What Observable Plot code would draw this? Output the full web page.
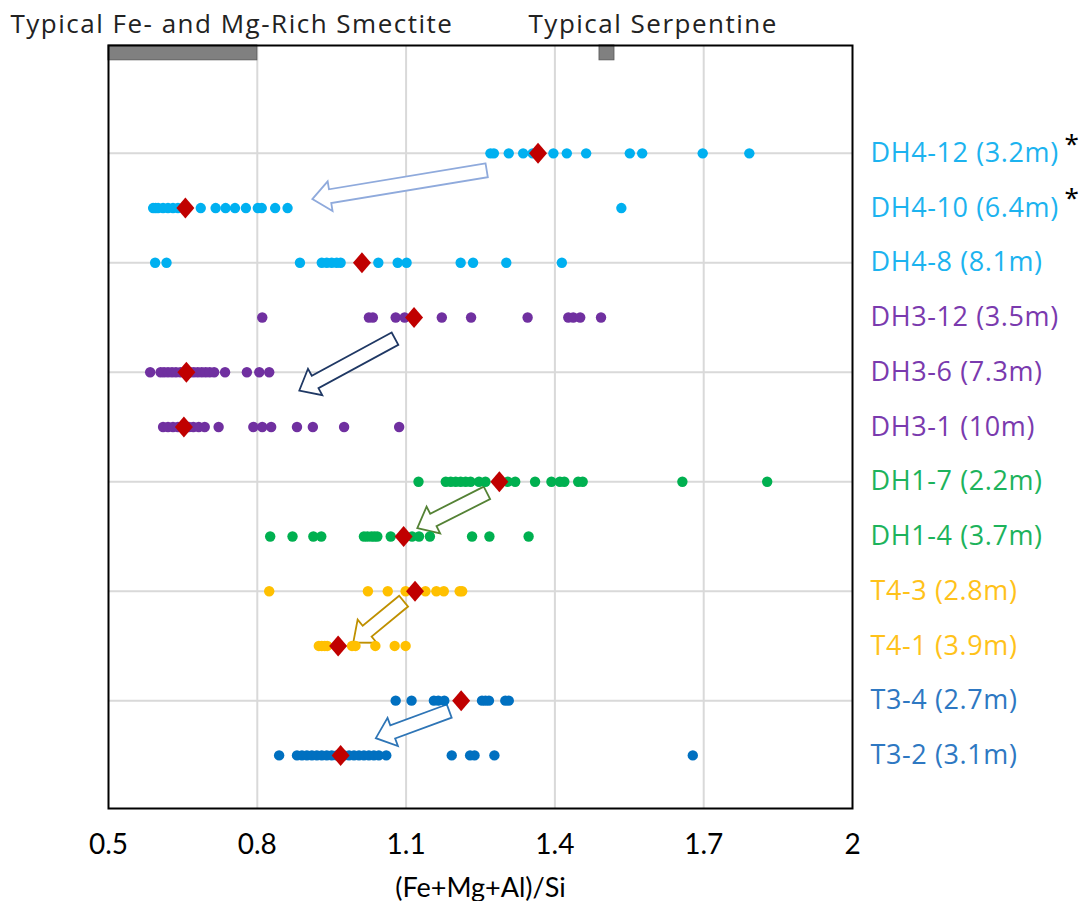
<!DOCTYPE html>
<html>
<head>
<meta charset="utf-8">
<script src="https://cdn.jsdelivr.net/npm/d3@7"></script>
<script src="https://cdn.jsdelivr.net/npm/@observablehq/plot@0.6"></script>
<style>
  html, body { margin: 0; padding: 0; background: #fff; }
  #chart svg { display: block; }
  #chart g[font-family^="'Open Sans'"][font-size="27"] { letter-spacing: 0.6px; }
  #chart g[font-family^="'Open Sans'"][font-size="26"] { letter-spacing: 1.5px; }
</style>
</head>
<body>
<div id="chart"></div>
<script>
// ---------- data ----------
const samples = ["DH4-12 (3.2m)", "DH4-10 (6.4m)", "DH4-8 (8.1m)", "DH3-12 (3.5m)", "DH3-6 (7.3m)", "DH3-1 (10m)",
                 "DH1-7 (2.2m)", "DH1-4 (3.7m)", "T4-3 (2.8m)", "T4-1 (3.9m)", "T3-4 (2.7m)", "T3-2 (3.1m)"];
const starred = [true, true, false, false, false, false, false, false, false, false, false, false];

const DH4_12 = [1.270, 1.277, 1.307, 1.336, 1.355, 1.397, 1.424, 1.463, 1.551, 1.576, 1.698, 1.792];
const DH4_10 = [0.590, 0.595, 0.600, 0.610, 0.620, 0.630, 0.640, 0.686, 0.716, 0.736, 0.755, 0.777, 0.801, 0.809, 0.836, 0.861, 1.534];
const DH4_8  = [0.594, 0.617, 0.886, 0.930, 0.940, 0.950, 0.960, 0.968, 1.044, 1.083, 1.101, 1.210, 1.235, 1.302, 1.414];
const DH3_12 = [0.810, 1.025, 1.033, 1.079, 1.097, 1.172, 1.231, 1.345, 1.427, 1.437, 1.451, 1.493];
const DH3_6  = [0.584, 0.605, 0.612, 0.620, 0.628, 0.636, 0.645, 0.665, 0.672, 0.680, 0.688, 0.696, 0.704, 0.713, 0.735, 0.779, 0.804, 0.824];
const DH3_1  = [0.610, 0.620, 0.630, 0.640, 0.662, 0.671, 0.682, 0.694, 0.722, 0.792, 0.810, 0.828, 0.880, 0.912, 0.975, 1.086];
const DH1_7  = [1.125, 1.180, 1.190, 1.200, 1.210, 1.220, 1.230, 1.247, 1.260, 1.305, 1.320, 1.360, 1.393, 1.410, 1.419, 1.447, 1.456, 1.657, 1.828];
const DH1_4  = [0.826, 0.871, 0.913, 0.929, 1.015, 1.022, 1.030, 1.036, 1.042, 1.069, 1.112, 1.126, 1.148, 1.233, 1.268, 1.347];
const T4_3   = [0.824, 1.023, 1.063, 1.099, 1.139, 1.161, 1.176, 1.208, 1.213];
const T4_1   = [0.924, 0.930, 0.936, 0.941, 0.991, 0.998, 1.038, 1.077, 1.099];
const T3_4   = [1.079, 1.111, 1.156, 1.165, 1.177, 1.253, 1.260, 1.267, 1.300, 1.307];
const T3_2   = [0.844, 0.880, 0.890, 0.900, 0.910, 0.920, 0.930, 0.940, 0.950, 0.960, 0.975, 0.985, 0.995, 1.005, 1.015, 1.025, 1.035, 1.045, 1.060,
                1.192, 1.229, 1.238, 1.278, 1.678];
const series = [DH4_12, DH4_10, DH4_8, DH3_12, DH3_6, DH3_1, DH1_7, DH1_4, T4_3, T4_1, T3_4, T3_2];

const means = [1.366, 0.655, 1.011, 1.116, 0.657, 0.652, 1.288, 1.095, 1.118, 0.963, 1.211, 0.968];

const dotColors   = ["#00B0F0", "#00B0F0", "#00B0F0", "#7030A0", "#7030A0", "#7030A0",
                     "#00B050", "#00B050", "#FFC000", "#FFC000", "#0070C0", "#0070C0"];
const labelColors = ["#1CB3EF", "#1CB3EF", "#1CB3EF", "#7A3AAE", "#7A3AAE", "#7A3AAE",
                     "#1DB35C", "#1DB35C", "#FFC21A", "#FFC21A", "#2E78C2", "#2E78C2"];

// reference ranges (top bars)
const refNames = ["Typical Fe- and Mg-Rich Smectite", "Typical Serpentine"];
const refFrom  = [0.5, 1.49];
const refTo    = [0.8, 1.52];

// shift arrows (from mean of upper sample toward lower sample)
const arrowFromX = [1.2635, 1.0786, 1.264, 1.096, 1.188];
const arrowFromY = [1.32, 4.395, 7.212, 9.191, 11.199];
const arrowToX   = [0.912, 0.8857, 1.1236, 0.9945, 1.040];
const arrowToY   = [1.846, 5.343, 7.857, 9.948, 11.694];
const arrowColors = ["#8FAADC", "#1F3864", "#548235", "#BF9000", "#2E75B6"];

const xTicks = [0.5, 0.8, 1.1, 1.4, 1.7, 2];
const xGrid = [0.8, 1.1, 1.4, 1.7];
const yGridRows = [1, 3, 5, 7, 9, 11];
const xLabel = "(Fe+Mg+Al)/Si";

// ---------- derived tables ----------
const points = series.flatMap((vals, i) => vals.map(v => ({v, row: i + 1, color: dotColors[i]})));
const meanRows = means.map((v, i) => ({v, row: i + 1}));
const labels = samples.map((s, i) => ({s, row: i + 1, color: labelColors[i], star: starred[i]}));
const refs = refNames.map((n, i) => ({n, x1: refFrom[i], x2: refTo[i]}));
const arrows = arrowFromX.map((_, i) => ({x1: arrowFromX[i], y1: arrowFromY[i], x2: arrowToX[i], y2: arrowToY[i], color: arrowColors[i]}));

const tallDiamond = {
  draw(ctx) {
    const w = 9, h = 10.5;
    ctx.moveTo(0, -h); ctx.lineTo(w, 0); ctx.lineTo(0, h); ctx.lineTo(-w, 0); ctx.closePath();
  }
};

const labelFont = "'Open Sans', 'Noto Sans', sans-serif";
const tickFont = "Lato, 'Open Sans', sans-serif";

function arrowMark(index, scales) {
  const ns = "http://www.w3.org/2000/svg";
  const g = document.createElementNS(ns, "g");
  const sw = 7, hw = 15, hl = 18;
  for (const a of arrows) {
    const tx = scales.x(a.x1), ty = scales.y(a.y1);
    const px = scales.x(a.x2), py = scales.y(a.y2);
    const L = Math.hypot(px - tx, py - ty);
    const ux = (px - tx) / L, uy = (py - ty) / L;
    const nx = -uy, ny = ux;
    const bx = px - ux * hl, by = py - uy * hl;
    const pts = [
      [tx + nx * sw, ty + ny * sw],
      [bx + nx * sw, by + ny * sw],
      [bx + nx * hw, by + ny * hw],
      [px, py],
      [bx - nx * hw, by - ny * hw],
      [bx - nx * sw, by - ny * sw],
      [tx - nx * sw, ty - ny * sw]
    ];
    const p = document.createElementNS(ns, "path");
    p.setAttribute("d", "M" + pts.map(q => q[0].toFixed(2) + "," + q[1].toFixed(2)).join("L") + "Z");
    p.setAttribute("fill", "#fff");
    p.setAttribute("stroke", a.color);
    p.setAttribute("stroke-width", 1.8);
    p.setAttribute("stroke-linejoin", "miter");
    g.appendChild(p);
  }
  return g;
}

const chart = Plot.plot({
  width: 1081,
  height: 901,
  marginLeft: 108,
  marginRight: 229,
  marginTop: 45,
  marginBottom: 93,
  style: {background: "#fff", overflow: "visible"},
  x: {domain: [0.5, 2]},
  y: {domain: [-0.97, 12.97], reverse: true, axis: null},
  color: {type: "identity"},
  marks: [
    Plot.ruleX(xGrid, {stroke: "#D9D9D9", strokeWidth: 2}),
    Plot.ruleY(yGridRows, {stroke: "#D9D9D9", strokeWidth: 2}),
    Plot.rect(refs, {x1: "x1", x2: "x2", y1: -0.97, y2: -0.70, fill: "#808080", stroke: "#5f5f5f", strokeWidth: 1}),
    arrowMark,
    Plot.dot(points, {x: "v", y: "row", r: 5.2, fill: "color", stroke: null}),
    Plot.dot(meanRows, {x: "v", y: "row", symbol: tallDiamond, fill: "#C00000", stroke: null}),
    Plot.frame({stroke: "#000", strokeWidth: 2}),
    Plot.axisX(xTicks, {tickSize: 0, tickPadding: 26, fontSize: 28, fontFamily: tickFont, fill: "#000", tickFormat: d => String(d), label: null}),
    Plot.text([xLabel], {frameAnchor: "bottom", lineAnchor: "middle", dy: 80, text: d => d, fontSize: 27, fontFamily: tickFont, fill: "#000"}),
    Plot.text(labels, {x: 2, y: "row", text: "s", fill: "color", textAnchor: "start", dx: 18, fontSize: 27, fontFamily: labelFont}),
    Plot.text(labels.filter(d => d.star), {x: 2, y: "row", text: () => "*", fill: "#000", textAnchor: "start", dx: 212, dy: -9, fontSize: 26, fontFamily: "'Noto Sans', sans-serif"}),
    Plot.text(refs.slice(0, 1), {x: "x1", frameAnchor: "top", lineAnchor: "middle", dy: -21, dx: -98, text: "n", textAnchor: "start", fontSize: 26, fontFamily: labelFont, fill: "#222"}),
    Plot.text(refs.slice(1), {x: "x1", frameAnchor: "top", lineAnchor: "middle", dy: -21, dx: -71, text: "n", textAnchor: "start", fontSize: 26, fontFamily: labelFont, fill: "#222"})
  ]
});

document.getElementById("chart").appendChild(chart);
</script>
</body>
</html>
